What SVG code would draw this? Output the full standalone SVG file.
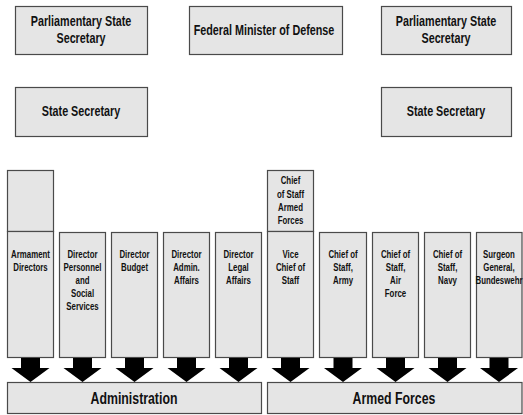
<svg xmlns="http://www.w3.org/2000/svg" width="523" height="415" viewBox="0 0 523 415">
<style>
.box{fill:#e5e5e5;stroke:#4a4a4a;stroke-width:1.2}
text{font-family:"Liberation Sans","Arial",sans-serif;font-weight:bold;fill:#111;text-anchor:middle}
.t1{font-size:14px}
.t2{font-size:10.2px}
.t3{font-size:16px}
.arr{fill:#000}
</style>
<rect width="523" height="415" fill="#fff"/>
<g id="parl1"><rect class="box" x="15.5" y="6.5" width="132" height="48"/><g transform="translate(81 0) scale(0.77 1)"><text class="t1" x="0" y="26">Parliamentary State</text><text class="t1" x="0" y="43">Secretary</text></g></g>
<g id="minister"><rect class="box" x="189.5" y="6.5" width="153" height="48"/><g transform="translate(264 0) scale(0.77 1)"><text class="t1" x="0" y="35">Federal Minister of Defense</text></g></g>
<g id="parl2"><rect class="box" x="381.5" y="6.5" width="130" height="48"/><g transform="translate(446 0) scale(0.77 1)"><text class="t1" x="0" y="26">Parliamentary State</text><text class="t1" x="0" y="43">Secretary</text></g></g>
<g id="state1"><rect class="box" x="15.5" y="87.5" width="132" height="49"/><g transform="translate(81 0) scale(0.77 1)"><text class="t1" x="0" y="116">State Secretary</text></g></g>
<g id="state2"><rect class="box" x="381.5" y="87.5" width="130" height="49"/><g transform="translate(446 0) scale(0.77 1)"><text class="t1" x="0" y="116">State Secretary</text></g></g>
<g id="armament-top"><rect class="box" x="7.5" y="170.5" width="46" height="61"/></g>
<g id="armament"><rect class="box" x="7.5" y="231.5" width="46" height="126"/><g transform="translate(30.5 0) scale(0.77 1)"><text class="t2" x="0" y="258">Armament</text><text class="t2" x="0" y="271">Directors</text></g></g>
<g id="personnel"><rect class="box" x="59.5" y="232.5" width="46" height="125"/><g transform="translate(82.5 0) scale(0.77 1)"><text class="t2" x="0" y="258">Director</text><text class="t2" x="0" y="271">Personnel</text><text class="t2" x="0" y="284">and</text><text class="t2" x="0" y="297">Social</text><text class="t2" x="0" y="310">Services</text></g></g>
<g id="budget"><rect class="box" x="111.5" y="232.5" width="46" height="125"/><g transform="translate(134.5 0) scale(0.77 1)"><text class="t2" x="0" y="258">Director</text><text class="t2" x="0" y="271">Budget</text></g></g>
<g id="admin"><rect class="box" x="163.5" y="232.5" width="46" height="125"/><g transform="translate(186.5 0) scale(0.77 1)"><text class="t2" x="0" y="258">Director</text><text class="t2" x="0" y="271">Admin.</text><text class="t2" x="0" y="284">Affairs</text></g></g>
<g id="legal"><rect class="box" x="215.5" y="232.5" width="46" height="125"/><g transform="translate(238.5 0) scale(0.77 1)"><text class="t2" x="0" y="258">Director</text><text class="t2" x="0" y="271">Legal</text><text class="t2" x="0" y="284">Affairs</text></g></g>
<g id="cos-armed"><rect class="box" x="267.5" y="170.5" width="46" height="61"/><g transform="translate(290.5 0) scale(0.77 1)"><text class="t2" x="0" y="184">Chief</text><text class="t2" x="0" y="198">of Staff</text><text class="t2" x="0" y="211">Armed</text><text class="t2" x="0" y="224">Forces</text></g></g>
<g id="vice"><rect class="box" x="267.5" y="231.5" width="46" height="126"/><g transform="translate(290.5 0) scale(0.77 1)"><text class="t2" x="0" y="258">Vice</text><text class="t2" x="0" y="271">Chief of</text><text class="t2" x="0" y="284">Staff</text></g></g>
<g id="army"><rect class="box" x="319.5" y="232.5" width="47" height="125"/><g transform="translate(343 0) scale(0.77 1)"><text class="t2" x="0" y="258">Chief of</text><text class="t2" x="0" y="271">Staff,</text><text class="t2" x="0" y="284">Army</text></g></g>
<g id="airforce"><rect class="box" x="372.5" y="232.5" width="46" height="125"/><g transform="translate(395.5 0) scale(0.77 1)"><text class="t2" x="0" y="258">Chief of</text><text class="t2" x="0" y="271">Staff,</text><text class="t2" x="0" y="284">Air</text><text class="t2" x="0" y="297">Force</text></g></g>
<g id="navy"><rect class="box" x="424.5" y="232.5" width="46" height="125"/><g transform="translate(447.5 0) scale(0.77 1)"><text class="t2" x="0" y="258">Chief of</text><text class="t2" x="0" y="271">Staff,</text><text class="t2" x="0" y="284">Navy</text></g></g>
<g id="surgeon"><rect class="box" x="476.5" y="232.5" width="45.5" height="125"/><g transform="translate(499 0) scale(0.77 1)"><text class="t2" x="0" y="258">Surgeon</text><text class="t2" x="0" y="271">General,</text><text class="t2" x="0" y="284">Bundeswehr</text></g></g>
<g id="administration"><rect class="box" x="7.5" y="382.5" width="254" height="31"/><g transform="translate(134 0) scale(0.77 1)"><text class="t3" x="0" y="404">Administration</text></g></g>
<g id="armedforces"><rect class="box" x="267.5" y="382.5" width="254.5" height="31"/><g transform="translate(394 0) scale(0.77 1)"><text class="t3" x="0" y="404">Armed Forces</text></g></g>
<g id="connectors">
<defs><path id="a" class="arr" d="M-9.5,358 H9.5 V368 H19 L0,382 L-19,368 H-9.5 Z"/></defs>
<use href="#a" x="30.5"/><use href="#a" x="82.5"/><use href="#a" x="134.5"/><use href="#a" x="186.5"/><use href="#a" x="238.5"/>
<use href="#a" x="290.5"/><use href="#a" x="343"/><use href="#a" x="395.5"/><use href="#a" x="447.5"/><use href="#a" x="499"/>
</g>
</svg>
